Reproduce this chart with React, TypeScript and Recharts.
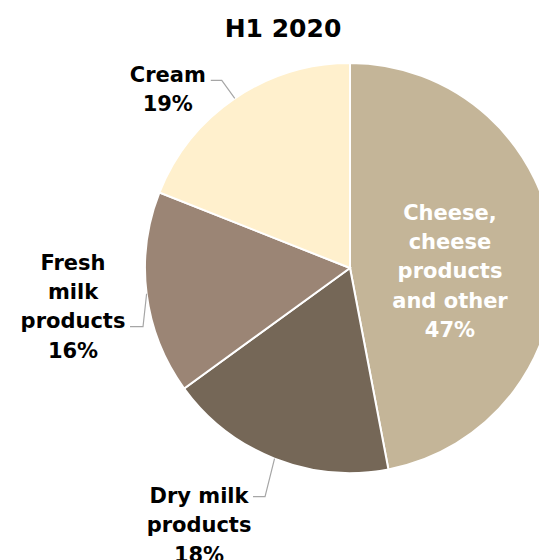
import React from 'react';
import { PieChart, Pie, Cell } from 'recharts';

const categories = ['Cheese, cheese products and other', 'Dry milk products', 'Fresh milk products', 'Cream'];
const shares = [47, 18, 16, 19];
const labelLines = [
  ['Cheese,', 'cheese', 'products', 'and other'],
  ['Dry milk', 'products'],
  ['Fresh', 'milk', 'products'],
  ['Cream'],
];
const colors = ['#C4B598', '#756757', '#9B8575', '#FFF0CD'];

const data = categories.map((name, i) => ({ name, value: shares[i] }));

const RADIAN = Math.PI / 180;
const FONT = '"DejaVu Sans", Verdana, sans-serif';
const LINE = 29.2;

// label placement, offsets from the slice edge point at mid angle
const outerLayout: Record<number, { elbow: [number, number]; end: [number, number]; text: [number, number] }> = {
  1: { elbow: [-9.5, 38], end: [-21.5, 38], text: [-75.5, 44.5] },
  2: { elbow: [-3.6, 33], end: [-16.6, 33], text: [-73.6, -23.7] },
  3: { elbow: [-13, -18], end: [-24, -18], text: [-67, -16.5] },
};

const renderLabel = (props: any) => {
  const { cx, cy, midAngle, outerRadius, index, value } = props;
  const lines = [...labelLines[index], `${value}%`];
  if (index === 0) {
    const r = outerRadius * 0.49;
    const x = cx + r * Math.cos(-midAngle * RADIAN);
    const y = cy + r * Math.sin(-midAngle * RADIAN) - 38.5;
    return (
      <text x={x} y={y} fill="#FFFFFF" textAnchor="middle" fontFamily={FONT} fontWeight="bold" fontSize={21}>
        {lines.map((l, i) => (
          <tspan key={i} x={x} y={y + i * LINE}>{l}</tspan>
        ))}
      </text>
    );
  }
  const lay = outerLayout[index];
  const ex = cx + outerRadius * Math.cos(-midAngle * RADIAN);
  const ey = cy + outerRadius * Math.sin(-midAngle * RADIAN);
  const tx = ex + lay.text[0];
  const ty = ey + lay.text[1];
  return (
    <g>
      <polyline
        points={`${ex},${ey} ${ex + lay.elbow[0]},${ey + lay.elbow[1]} ${ex + lay.end[0]},${ey + lay.end[1]}`}
        fill="none"
        stroke="#A6A6A6"
        strokeWidth={1.2}
      />
      <text x={tx} y={ty} fill="#000000" textAnchor="middle" fontFamily={FONT} fontWeight="bold" fontSize={21}>
        {lines.map((l, i) => (
          <tspan key={i} x={tx} y={ty + i * LINE}>{l}</tspan>
        ))}
      </text>
    </g>
  );
};

export default function App() {
  return (
    <div style={{ position: 'absolute', left: 0, top: 0, width: 539, height: 560, background: '#FFFFFF' }}>
      <PieChart width={539} height={560} margin={{ top: 0, right: 0, bottom: 0, left: 0 }}>
        <text x={283} y={37} textAnchor="middle" fontFamily={FONT} fontWeight="bold" fontSize={25} fill="#000000">
          H1 2020
        </text>
        <Pie
          data={data}
          dataKey="value"
          nameKey="name"
          cx={350}
          cy={268}
          outerRadius={205}
          startAngle={90}
          endAngle={-270}
          stroke="#FFFFFF"
          strokeWidth={2}
          labelLine={false}
          label={renderLabel}
          isAnimationActive={false}
        >
          {data.map((entry, index) => (
            <Cell key={`cell-${index}`} fill={colors[index]} />
          ))}
        </Pie>
      </PieChart>
    </div>
  );
}
